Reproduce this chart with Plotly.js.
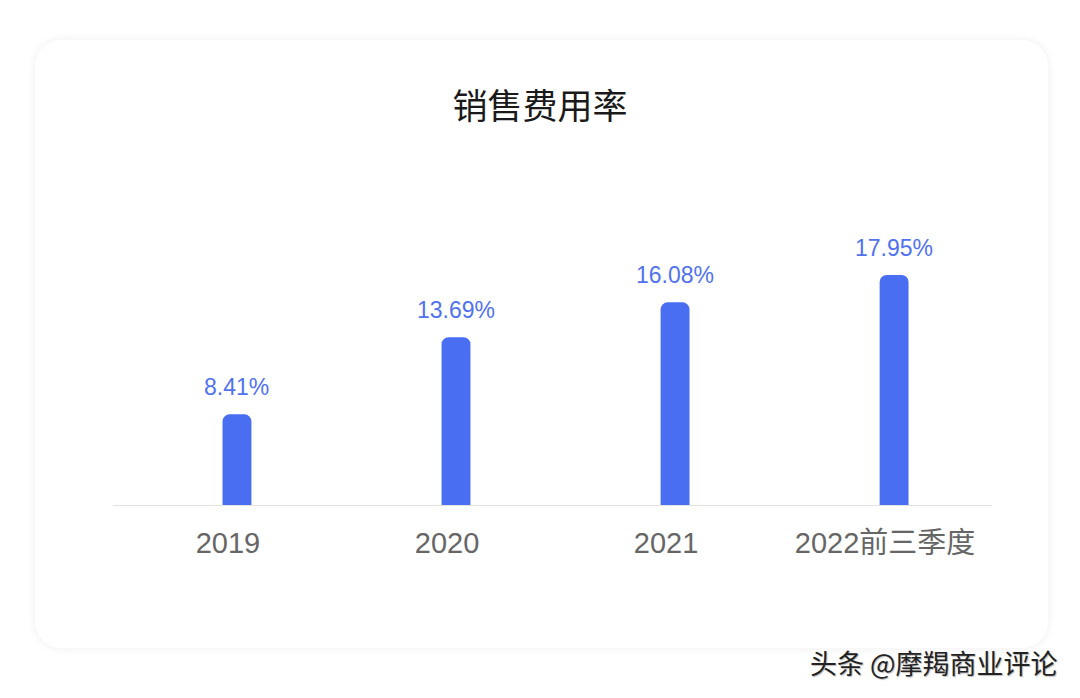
<!DOCTYPE html>
<html>
<head>
<meta charset="utf-8">
<script src="https://cdn.plot.ly/plotly-3.0.1.min.js"></script>
<style>
  html, body { margin: 0; padding: 0; background: #ffffff; width: 1080px; height: 698px; overflow: hidden; }
  #card { position: absolute; left: 35px; top: 40px; width: 1013px; height: 608px; background: #ffffff;
          border-radius: 26px; box-shadow: 0 0 10px rgba(0,0,0,0.07); }
  #chart { position: absolute; left: 0; top: 0; width: 1080px; height: 698px; }
</style>
</head>
<body>
<div id="card"></div>
<div id="chart"></div>
<script>
const chartTitle = "销售费用率";
const categories = ["2019", "2020", "2021", "2022前三季度"];
const values = [8.41, 13.69, 16.08, 17.95];
const valueLabels = ["8.41%", "13.69%", "16.08%", "17.95%"];
const watermark = "头条 @摩羯商业评论";

const FONT = "'Liberation Sans', Arial, 'Noto Sans CJK SC', sans-serif";
const BAR = "#4a6ef1";

const trace = {
  type: "bar",
  x: categories,
  y: values,
  marker: { color: BAR, cornerradius: 7, line: { width: 0 } },
  hoverinfo: "skip"
};

// category axis: annotation x given as the category index
const annotations = categories.map((c, i) => ({
  x: i, y: values[i], xref: "x", yref: "y",
  text: valueLabels[i], showarrow: false,
  yanchor: "middle", yshift: 27,
  font: { family: FONT, size: 23, color: "#5072ee" }
}));
annotations.push({
  xref: "paper", yref: "paper", x: 1.0774, y: -0.518,
  xanchor: "right", yanchor: "middle",
  text: watermark, showarrow: false,
  font: { family: "'Noto Sans CJK SC', sans-serif", size: 27, color: "#222222", shadow: "1px 1px 1px #bbbbbb" }
});

const layout = {
  width: 1080, height: 698,
  paper_bgcolor: "rgba(0,0,0,0)",
  plot_bgcolor: "rgba(0,0,0,0)",
  margin: { l: 113, r: 88, t: 200, b: 193, pad: 0 },
  title: {
    text: chartTitle,
    x: 0.5, xref: "container", xanchor: "center",
    y: 1 - 107 / 698, yref: "container", yanchor: "middle",
    font: { family: "'Noto Sans CJK SC', sans-serif", size: 35, color: "#1a1a1a" }
  },
  bargap: 0.868,
  showlegend: false,
  xaxis: {
    type: "category",
    range: [-0.566, 3.447],
    showline: true, linecolor: "#e2e2e2", linewidth: 1.2,
    showgrid: false, zeroline: false, ticks: "",
    ticklabelstandoff: 12,
    ticklabelshift: -9,
    tickfont: { family: FONT, size: 29, color: "#666666" },
    fixedrange: true
  },
  yaxis: {
    range: [2.2, 23.09],
    visible: false, showgrid: false, zeroline: false, fixedrange: true
  },
  annotations: annotations
};

Plotly.newPlot("chart", [trace], layout, { displayModeBar: false, staticPlot: true });
</script>
</body>
</html>
